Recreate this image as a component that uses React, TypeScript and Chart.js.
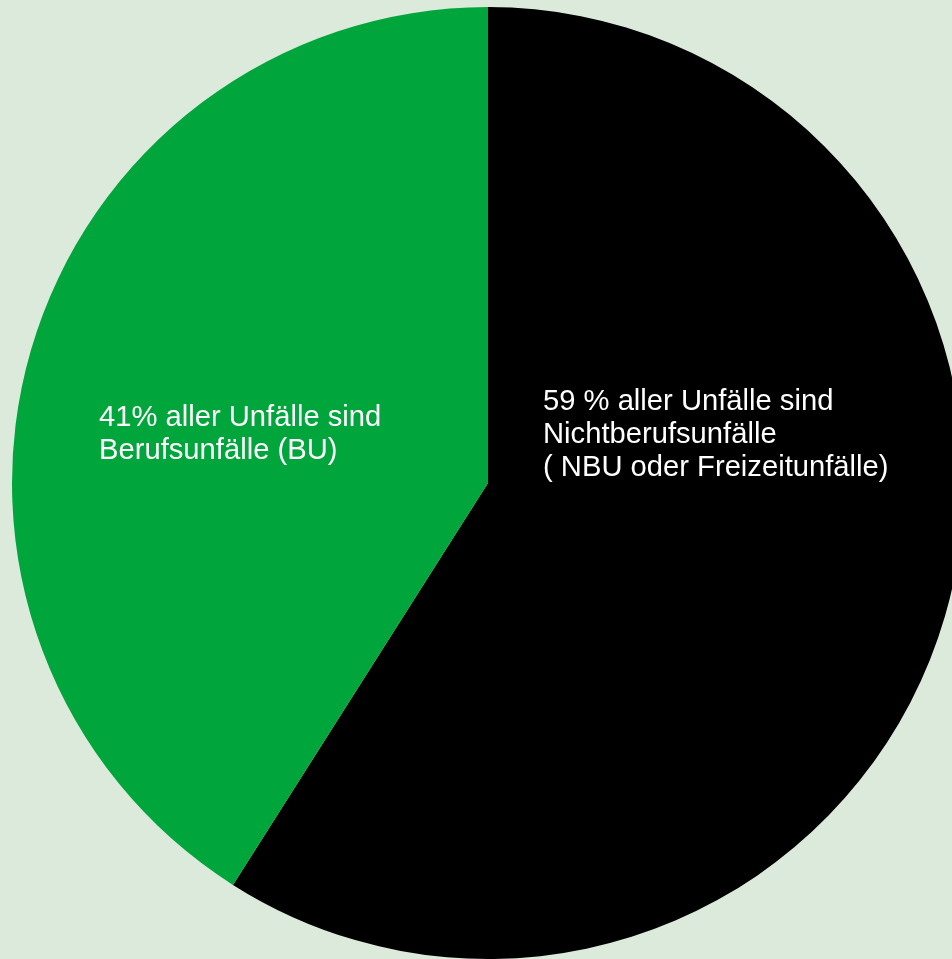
import React, { useEffect, useRef } from "react";
import { Chart, registerables } from "chart.js";

Chart.register(...registerables);

const categories = ["Nichtberufsunfälle", "Berufsunfälle"];
const values = [59, 41];
const colors = ["#000000", "#00A63C"];
const labelLines = [
  ["59 % aller Unfälle sind", "Nichtberufsunfälle", "( NBU oder Freizeitunfälle)"],
  ["41% aller Unfälle sind", "Berufsunfälle (BU)"],
];

const FONT_SIZE = 29.2;
const LINE_H = 33;
// label offsets relative to pie centre
const labelOffsets = [
  { dx: 55, dy: -73 },
  { dx: -389, dy: -57 },
];

const labelPlugin = {
  id: "sliceLabels",
  afterDatasetsDraw(chart: any) {
    const ctx = chart.ctx;
    const meta = chart.getDatasetMeta(0);
    ctx.save();
    ctx.fillStyle = "#ffffff";
    ctx.font = `${FONT_SIZE}px "Liberation Sans", Arial, sans-serif`;
    ctx.textAlign = "left";
    ctx.textBaseline = "alphabetic";
    meta.data.forEach((arc: any, i: number) => {
      const off = labelOffsets[i];
      labelLines[i].forEach((line, j) => {
        ctx.fillText(line, arc.x + off.dx, arc.y + off.dy + j * LINE_H);
      });
    });
    ctx.restore();
  },
};

export default function App() {
  const ref = useRef<HTMLCanvasElement | null>(null);
  useEffect(() => {
    document.body.style.margin = "0";
    const chart = new Chart(ref.current as HTMLCanvasElement, {
      type: "pie",
      data: {
        labels: categories,
        datasets: [
          {
            data: values,
            backgroundColor: colors,
            borderWidth: 0,
          },
        ],
      },
      options: {
        animation: false,
        responsive: false,
        maintainAspectRatio: false,
        layout: { padding: { left: 12, right: 12, top: 7, bottom: 0 } },
        plugins: {
          legend: { display: false },
          tooltip: { enabled: false },
        },
      },
      plugins: [labelPlugin],
    });
    return () => chart.destroy();
  }, []);
  return (
    <div
      style={{
        position: "fixed",
        left: 0,
        top: 0,
        width: 952,
        height: 959,
        overflow: "hidden",
        background: "#DCEADC",
      }}
    >
      <canvas ref={ref} width={976} height={959} style={{ display: "block" }} />
    </div>
  );
}
